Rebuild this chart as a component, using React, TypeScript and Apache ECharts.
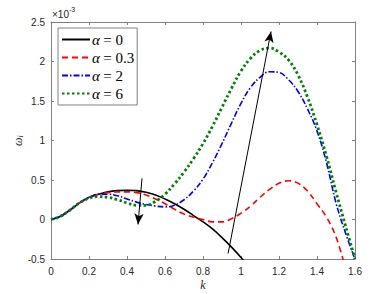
import React, { useEffect, useRef } from "react";
import * as echarts from "echarts";

const kValues = [0, 0.05, 0.1, 0.15, 0.2, 0.25, 0.3, 0.35, 0.4, 0.45, 0.5, 0.55, 0.6, 0.65, 0.7, 0.75, 0.8, 0.85, 0.9, 0.95, 1.0, 1.05, 1.1, 1.15, 1.2, 1.25, 1.3, 1.35, 1.4, 1.45, 1.5, 1.55, 1.6];
const wAlpha0 = [0, 0.04, 0.12, 0.21, 0.28, 0.32, 0.35, 0.365, 0.37, 0.365, 0.345, 0.31, 0.26, 0.2, 0.13, 0.05, -0.03, -0.12, -0.23, -0.35, -0.48, -0.62, null, null, null, null, null, null, null, null, null, null, null];
const wAlpha03 = [0, 0.04, 0.12, 0.21, 0.28, 0.32, 0.34, 0.35, 0.35, 0.34, 0.31, 0.26, 0.2, 0.13, 0.07, 0.03, 0, -0.03, -0.03, 0.01, 0.08, 0.17, 0.28, 0.38, 0.46, 0.49, 0.46, 0.36, 0.2, 0.03, -0.22, -0.62, null];
const wAlpha2 = [0, 0.04, 0.12, 0.21, 0.28, 0.32, 0.32, 0.3, 0.26, 0.22, 0.19, 0.17, 0.16, 0.18, 0.25, 0.36, 0.51, 0.72, 0.96, 1.22, 1.47, 1.67, 1.8, 1.87, 1.86, 1.77, 1.62, 1.4, 1.12, 0.72, 0.21, -0.17, -0.5];
const wAlpha6 = [0, 0.04, 0.12, 0.21, 0.27, 0.29, 0.28, 0.25, 0.21, 0.18, 0.18, 0.23, 0.32, 0.45, 0.6, 0.77, 0.96, 1.18, 1.42, 1.66, 1.88, 2.04, 2.14, 2.17, 2.12, 2.02, 1.83, 1.55, 1.2, 0.8, 0.35, -0.08, -0.5];
const seriesNames = ["α = 0", "α = 0.3", "α = 2", "α = 6"];
const arrowDown = [[0.479, 0.52], [0.458, -0.063]];
const arrowUp = [[0.932, -0.43], [1.158, 2.38]];

const AXIS_COLOR = "#808080";
const TEXT_COLOR = "#262626";

export default function App() {
  const ref = useRef<HTMLDivElement>(null);
  useEffect(() => {
    if (!ref.current) return;
    const chart = echarts.init(ref.current, null, { renderer: "svg" });
    const mk = (w: (number | null)[]) => kValues.map((k, i) => [k, w[i]]);
    const fmt = (v: number) => String(+v.toFixed(1));
    const axisCommon = {
      type: "value" as const,
      axisLine: { show: true, onZero: false, lineStyle: { color: AXIS_COLOR, width: 1 } },
      axisTick: { show: true, inside: true, length: 3, lineStyle: { color: AXIS_COLOR } },
      splitLine: { show: false },
    };
    chart.setOption({
      animation: false,
      grid: { left: 51, right: 37, top: 22, bottom: 35 },
      xAxis: [
        {
          ...axisCommon,
          position: "bottom",
          min: 0, max: 1.6, interval: 0.2,
          axisLabel: { color: TEXT_COLOR, fontSize: 10, fontFamily: "Liberation Sans", margin: 7, formatter: fmt },
        },
        {
          ...axisCommon,
          position: "top",
          min: 0, max: 1.6, interval: 0.2,
          axisLabel: { show: false },
        },
      ],
      yAxis: [
        {
          ...axisCommon,
          position: "left",
          min: -0.5, max: 2.5, interval: 0.5,
          axisLabel: { color: TEXT_COLOR, fontSize: 10, fontFamily: "Liberation Sans", margin: 6, formatter: fmt },
        },
        {
          ...axisCommon,
          position: "right",
          min: -0.5, max: 2.5, interval: 0.5,
          axisLabel: { show: false },
        },
      ],
      legend: {
        left: 58, top: 28,
        orient: "vertical",
        padding: [4, 3, 4, 3],
        itemGap: 3,
        itemWidth: 28,
        itemHeight: 14,
        borderColor: AXIS_COLOR,
        borderWidth: 1,
        borderRadius: 0,
        backgroundColor: "#fff",
        itemStyle: { opacity: 0 },
        data: seriesNames,
        formatter: (name: string) => {
          const rest = name.replace("α", "").trim();
          return `{a|α} {t|${rest}}`;
        },
        textStyle: {
          padding: [0, 0, 0, -3],
          rich: {
            a: { fontFamily: "Liberation Serif", fontStyle: "italic", fontSize: 15, color: "#000" },
            t: { fontFamily: "Liberation Serif", fontSize: 15, color: "#000" },
          },
        },
      },
      graphic: [
        {
          type: "text", left: 52, top: 6,
          style: {
            text: "{a|×10}{b|-3}",
            rich: {
              a: { fontFamily: "Liberation Sans", fontSize: 10, fill: TEXT_COLOR, verticalAlign: "bottom" },
              b: { fontFamily: "Liberation Sans", fontSize: 7, fill: TEXT_COLOR, verticalAlign: "top", padding: [0, 0, 6, 0] },
            },
          },
        },
        {
          type: "text", x: 11, y: 146, rotation: Math.PI / 2,
          style: {
            text: "{a|ω}{b|i}",
            rich: {
              a: { fontFamily: "Liberation Serif", fontStyle: "italic", fontSize: 12, fill: TEXT_COLOR },
              b: { fontFamily: "Liberation Serif", fontStyle: "italic", fontSize: 8, fill: TEXT_COLOR, padding: [5, 0, 0, 0] },
            },
          },
        },
        {
          type: "text", x: 203, y: 285,
          style: {
            text: "k", fontFamily: "Liberation Serif", fontStyle: "italic", fontSize: 12, fill: TEXT_COLOR,
            align: "center", verticalAlign: "middle",
          },
        },
      ],
      series: [
        {
          name: seriesNames[0], type: "line", data: mk(wAlpha0), showSymbol: false, symbol: "none",
          smooth: 0.4, clip: true, connectNulls: false,
          lineStyle: { color: "#000", width: 1.6, type: "solid" }, itemStyle: { color: "#000" },
          markLine: {
            silent: true, symbol: ["none", "arrow"], symbolSize: [7, 11],
            label: { show: false },
            lineStyle: { color: "#000", width: 1, type: "solid" },
            data: [
              [{ coord: arrowDown[0] }, { coord: arrowDown[1] }],
              [{ coord: arrowUp[0] }, { coord: arrowUp[1] }],
            ],
          },
        },
        {
          name: seriesNames[1], type: "line", data: mk(wAlpha03), showSymbol: false, symbol: "none",
          smooth: 0.4, clip: true,
          lineStyle: { color: "#ff0000", width: 1.6, type: [6, 4] }, itemStyle: { color: "#ff0000" },
        },
        {
          name: seriesNames[2], type: "line", data: mk(wAlpha2), showSymbol: false, symbol: "none",
          smooth: 0.4, clip: true,
          lineStyle: { color: "#0000ff", width: 1.6, type: [6, 2, 1.5, 2] }, itemStyle: { color: "#0000ff" },
        },
        {
          name: seriesNames[3], type: "line", data: mk(wAlpha6), showSymbol: false, symbol: "none",
          smooth: 0.4, clip: true,
          lineStyle: { color: "#008000", width: 2.8, type: [2.5, 2.5] }, itemStyle: { color: "#008000" },
        },
      ],
    });
    return () => chart.dispose();
  }, []);
  return (
    <div
      ref={ref}
      style={{ position: "fixed", left: 0, top: 0, width: 392, height: 294, background: "#fff" }}
    />
  );
}
